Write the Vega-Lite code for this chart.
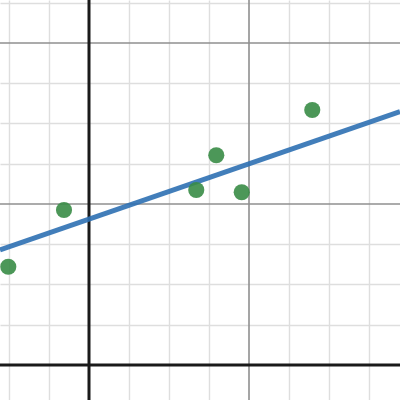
{
  "$schema": "https://vega.github.io/schema/vega-lite/v6.json",
  "width": 400,
  "height": 400,
  "padding": 0,
  "autosize": {"type": "none"},
  "background": "white",
  "config": {"view": {"stroke": null}},
  "datasets": {
    "points": [
      {"x": -1.009, "y": 1.221},
      {"x": -0.3125, "y": 1.925},
      {"x": 1.341, "y": 2.174},
      {"x": 1.591, "y": 2.605},
      {"x": 1.909, "y": 2.145},
      {"x": 2.791, "y": 3.168}
    ],
    "fit": [
      {"x": -1.1125, "y": 1.4286},
      {"x": 3.8875, "y": 3.147}
    ],
    "majorX": [{"v": 2}],
    "majorY": [{"v": 2}, {"v": 4}],
    "axisX": [{"v": 0}],
    "axisY": [{"v": 0}]
  },
  "encoding": {},
  "layer": [
    {
      "data": {"name": "majorX"},
      "mark": {"type": "rule", "color": "#8f8f8f", "strokeWidth": 1.6},
      "encoding": {
        "x": {
          "field": "v", "type": "quantitative",
          "scale": {"domain": [-1.1125, 3.8875], "nice": false, "zero": false},
          "axis": {"title": null, "labels": false, "ticks": false, "domain": false, "grid": true,
                   "values": [-1, -0.5, 0.5, 1, 1.5, 2.5, 3, 3.5],
                   "gridColor": "#dedede", "gridWidth": 1.4}
        }
      }
    },
    {
      "data": {"name": "majorY"},
      "mark": {"type": "rule", "color": "#8f8f8f", "strokeWidth": 1.6},
      "encoding": {
        "y": {
          "field": "v", "type": "quantitative",
          "scale": {"domain": [-0.435, 4.534], "nice": false, "zero": false},
          "axis": {"title": null, "labels": false, "ticks": false, "domain": false, "grid": true,
                   "values": [0.5, 1, 1.5, 2.5, 3, 3.5, 4.5],
                   "gridColor": "#dedede", "gridWidth": 1.4}
        }
      }
    },
    {
      "data": {"name": "axisX"},
      "mark": {"type": "rule", "color": "#1a1a1a", "strokeWidth": 3},
      "encoding": {"x": {"field": "v", "type": "quantitative"}}
    },
    {
      "data": {"name": "axisY"},
      "mark": {"type": "rule", "color": "#1a1a1a", "strokeWidth": 3},
      "encoding": {"y": {"field": "v", "type": "quantitative"}}
    },
    {
      "data": {"name": "fit"},
      "mark": {"type": "line", "color": "#2d70b3", "strokeWidth": 5, "opacity": 0.9, "clip": true},
      "encoding": {
        "x": {"field": "x", "type": "quantitative"},
        "y": {"field": "y", "type": "quantitative"}
      }
    },
    {
      "data": {"name": "points"},
      "mark": {"type": "point", "filled": true, "color": "#388c46", "size": 260, "opacity": 0.9, "clip": true},
      "encoding": {
        "x": {"field": "x", "type": "quantitative"},
        "y": {"field": "y", "type": "quantitative"}
      }
    }
  ]
}
